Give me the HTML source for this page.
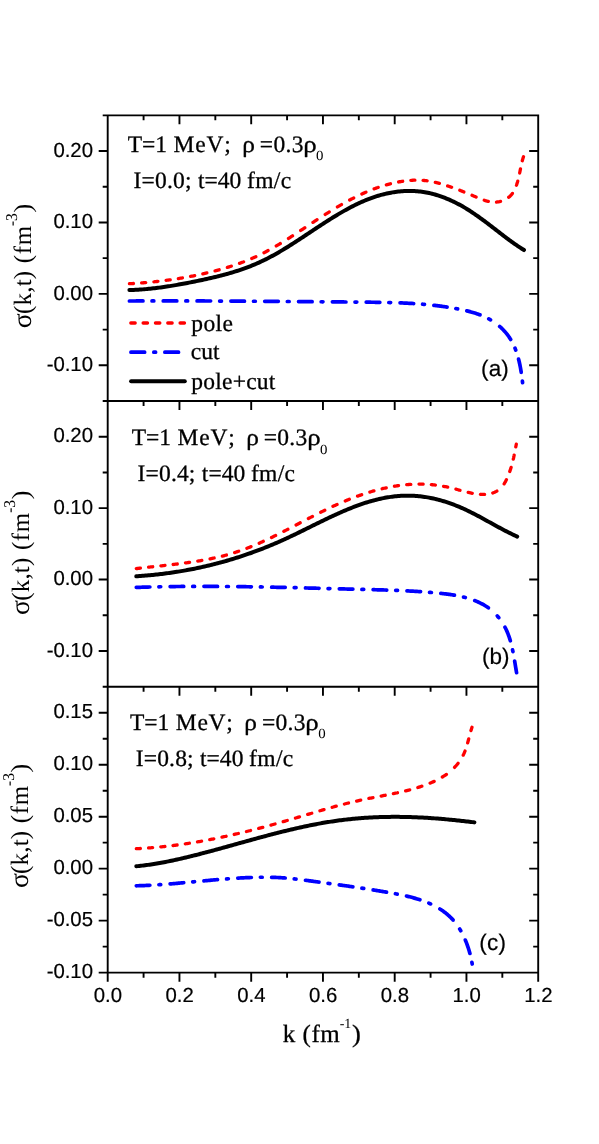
<!DOCTYPE html>
<html><head><meta charset="utf-8"><title>sigma(k,t)</title>
<style>
html,body{margin:0;padding:0;background:#fff;}
body{width:599px;height:1144px;overflow:hidden;}
svg{display:block;will-change:transform;}
text{font-kerning:none;font-variant-ligatures:none;text-rendering:geometricPrecision;}
.ser{font-family:"Liberation Serif",serif;fill:#000;stroke:#000;stroke-width:0.3px;stroke-linejoin:round;}
.san{font-family:"Liberation Sans",sans-serif;fill:#000;stroke:#000;stroke-width:0.2px;stroke-linejoin:round;}
.yt .ser{stroke:none;}
.ax{stroke:#000;stroke-width:1.90;fill:none;stroke-linecap:butt;}
.cv{fill:none;stroke-linejoin:round;}
</style></head><body>
<svg width="599" height="1144" viewBox="0 0 599 1144">
<rect x="0" y="0" width="599" height="1144" fill="#fff"/>
<path class="ax" d="M107.70 114.40 L107.70 973.60 M538.20 114.40 L538.20 973.60 M106.75 115.35 L539.15 115.35 M106.75 401.00 L539.15 401.00 M106.75 686.70 L539.15 686.70 M106.75 972.65 L539.15 972.65 M143.58 115.35 L143.58 120.35 M179.45 115.35 L179.45 124.35 M215.33 115.35 L215.33 120.35 M251.20 115.35 L251.20 124.35 M287.08 115.35 L287.08 120.35 M322.95 115.35 L322.95 124.35 M358.83 115.35 L358.83 120.35 M394.70 115.35 L394.70 124.35 M430.58 115.35 L430.58 120.35 M466.45 115.35 L466.45 124.35 M502.33 115.35 L502.33 120.35 M143.58 401.00 L143.58 406.00 M179.45 401.00 L179.45 410.00 M215.33 401.00 L215.33 406.00 M251.20 401.00 L251.20 410.00 M287.08 401.00 L287.08 406.00 M322.95 401.00 L322.95 410.00 M358.83 401.00 L358.83 406.00 M394.70 401.00 L394.70 410.00 M430.58 401.00 L430.58 406.00 M466.45 401.00 L466.45 410.00 M502.33 401.00 L502.33 406.00 M143.58 686.70 L143.58 691.70 M179.45 686.70 L179.45 695.70 M215.33 686.70 L215.33 691.70 M251.20 686.70 L251.20 695.70 M287.08 686.70 L287.08 691.70 M322.95 686.70 L322.95 695.70 M358.83 686.70 L358.83 691.70 M394.70 686.70 L394.70 695.70 M430.58 686.70 L430.58 691.70 M466.45 686.70 L466.45 695.70 M502.33 686.70 L502.33 691.70 M107.70 972.65 L107.70 981.65 M143.58 972.65 L143.58 977.65 M179.45 972.65 L179.45 981.65 M215.33 972.65 L215.33 977.65 M251.20 972.65 L251.20 981.65 M287.08 972.65 L287.08 977.65 M322.95 972.65 L322.95 981.65 M358.83 972.65 L358.83 977.65 M394.70 972.65 L394.70 981.65 M430.58 972.65 L430.58 977.65 M466.45 972.65 L466.45 981.65 M502.33 972.65 L502.33 977.65 M538.20 972.65 L538.20 981.65 M98.70 151.06 L107.70 151.06 M529.20 151.06 L538.20 151.06 M98.70 222.47 L107.70 222.47 M529.20 222.47 L538.20 222.47 M98.70 293.88 L107.70 293.88 M529.20 293.88 L538.20 293.88 M98.70 365.29 L107.70 365.29 M529.20 365.29 L538.20 365.29 M102.70 115.35 L107.70 115.35 M533.20 115.35 L538.20 115.35 M102.70 186.76 L107.70 186.76 M533.20 186.76 L538.20 186.76 M102.70 258.17 L107.70 258.17 M533.20 258.17 L538.20 258.17 M102.70 329.59 L107.70 329.59 M533.20 329.59 L538.20 329.59 M102.70 401.00 L107.70 401.00 M533.20 401.00 L538.20 401.00 M98.70 436.71 L107.70 436.71 M529.20 436.71 L538.20 436.71 M98.70 508.14 L107.70 508.14 M529.20 508.14 L538.20 508.14 M98.70 579.56 L107.70 579.56 M529.20 579.56 L538.20 579.56 M98.70 650.99 L107.70 650.99 M529.20 650.99 L538.20 650.99 M102.70 401.00 L107.70 401.00 M533.20 401.00 L538.20 401.00 M102.70 472.43 L107.70 472.43 M533.20 472.43 L538.20 472.43 M102.70 543.85 L107.70 543.85 M533.20 543.85 L538.20 543.85 M102.70 615.27 L107.70 615.27 M533.20 615.27 L538.20 615.27 M102.70 686.70 L107.70 686.70 M533.20 686.70 L538.20 686.70 M98.70 712.70 L107.70 712.70 M529.20 712.70 L538.20 712.70 M98.70 764.69 L107.70 764.69 M529.20 764.69 L538.20 764.69 M98.70 816.68 L107.70 816.68 M529.20 816.68 L538.20 816.68 M98.70 868.67 L107.70 868.67 M529.20 868.67 L538.20 868.67 M98.70 920.66 L107.70 920.66 M529.20 920.66 L538.20 920.66 M98.70 972.65 L107.70 972.65 M529.20 972.65 L538.20 972.65 M102.70 686.70 L107.70 686.70 M533.20 686.70 L538.20 686.70 M102.70 738.69 L107.70 738.69 M533.20 738.69 L538.20 738.69 M102.70 790.68 L107.70 790.68 M533.20 790.68 L538.20 790.68 M102.70 842.67 L107.70 842.67 M533.20 842.67 L538.20 842.67 M102.70 894.66 L107.70 894.66 M533.20 894.66 L538.20 894.66 M102.70 946.65 L107.70 946.65 M533.20 946.65 L538.20 946.65"/>
<text class="san" x="93.0" y="156.71" font-size="20.35" text-anchor="end">0.20</text>
<text class="san" x="93.0" y="228.12" font-size="20.35" text-anchor="end">0.10</text>
<text class="san" x="93.0" y="299.53" font-size="20.35" text-anchor="end">0.00</text>
<text class="san" x="93.0" y="370.94" font-size="20.35" text-anchor="end">-0.10</text>
<text class="san" x="93.0" y="442.36" font-size="20.35" text-anchor="end">0.20</text>
<text class="san" x="93.0" y="513.79" font-size="20.35" text-anchor="end">0.10</text>
<text class="san" x="93.0" y="585.21" font-size="20.35" text-anchor="end">0.00</text>
<text class="san" x="93.0" y="656.64" font-size="20.35" text-anchor="end">-0.10</text>
<text class="san" x="93.0" y="718.35" font-size="20.35" text-anchor="end">0.15</text>
<text class="san" x="93.0" y="770.34" font-size="20.35" text-anchor="end">0.10</text>
<text class="san" x="93.0" y="822.33" font-size="20.35" text-anchor="end">0.05</text>
<text class="san" x="93.0" y="874.32" font-size="20.35" text-anchor="end">0.00</text>
<text class="san" x="93.0" y="926.31" font-size="20.35" text-anchor="end">-0.05</text>
<text class="san" x="93.0" y="978.30" font-size="20.35" text-anchor="end">-0.10</text>
<text class="san" x="107.90" y="1002.0" font-size="20.35" text-anchor="middle">0.0</text>
<text class="san" x="179.65" y="1002.0" font-size="20.35" text-anchor="middle">0.2</text>
<text class="san" x="251.40" y="1002.0" font-size="20.35" text-anchor="middle">0.4</text>
<text class="san" x="323.15" y="1002.0" font-size="20.35" text-anchor="middle">0.6</text>
<text class="san" x="394.90" y="1002.0" font-size="20.35" text-anchor="middle">0.8</text>
<text class="san" x="466.65" y="1002.0" font-size="20.35" text-anchor="middle">1.0</text>
<text class="san" x="538.40" y="1002.0" font-size="20.35" text-anchor="middle">1.2</text>
<path class="cv" d="M129.40 301.00 L129.40 301.00 L130.40 301.00 L131.39 300.99 L132.38 300.99 L133.38 300.99 L134.37 300.98 L135.37 300.98 L136.36 300.97 L137.35 300.97 L138.35 300.97 L139.34 300.96 L140.34 300.96 L141.33 300.96 L142.33 300.95 L142.98 300.95 M152.01 300.93 L152.03 300.93 L153.02 300.93 L153.80 300.93 M163.24 300.91 L163.24 300.91 L164.23 300.91 L165.23 300.91 L166.23 300.91 L167.23 300.91 L168.22 300.91 L169.22 300.91 L170.22 300.91 L171.22 300.91 L172.21 300.91 L173.21 300.91 L174.21 300.91 L175.21 300.91 L176.20 300.92 L176.81 300.92 M185.84 300.93 L185.94 300.93 L186.94 300.93 L187.64 300.93 M197.07 300.95 L197.18 300.95 L198.18 300.95 L199.18 300.96 L200.18 300.96 L201.18 300.96 L202.18 300.97 L203.18 300.97 L204.18 300.97 L205.18 300.98 L206.18 300.98 L207.18 300.98 L208.18 300.99 L209.18 300.99 L210.18 300.99 L210.64 301.00 M219.67 301.03 L219.69 301.03 L220.69 301.04 L221.47 301.04 M230.90 301.09 L230.95 301.09 L231.95 301.10 L232.95 301.10 L233.95 301.11 L234.95 301.11 L235.96 301.12 L236.96 301.12 L237.96 301.13 L238.96 301.14 L239.96 301.14 L240.96 301.15 L241.97 301.15 L242.97 301.16 L243.97 301.17 L244.47 301.17 M253.51 301.23 L253.74 301.23 L254.74 301.24 L255.30 301.24 M264.73 301.31 L264.76 301.31 L265.76 301.31 L266.77 301.32 L267.77 301.33 L268.77 301.34 L269.77 301.34 L270.77 301.35 L271.78 301.36 L272.78 301.37 L273.78 301.37 L274.78 301.38 L275.79 301.39 L276.79 301.40 L277.79 301.40 L278.31 301.41 M287.34 301.48 L287.56 301.48 L288.56 301.49 L289.13 301.49 M298.56 301.57 L298.59 301.57 L299.59 301.58 L300.59 301.59 L301.59 301.60 L302.59 301.61 L303.60 301.62 L304.60 301.63 L305.60 301.63 L306.60 301.64 L307.60 301.65 L308.60 301.66 L309.61 301.67 L310.61 301.68 L311.61 301.69 L312.14 301.69 M321.17 301.77 L321.38 301.77 L322.38 301.78 L322.97 301.79 M332.40 301.87 L332.64 301.87 L333.64 301.88 L334.64 301.89 L335.64 301.90 L336.64 301.91 L337.65 301.92 L338.65 301.93 L339.65 301.94 L340.65 301.94 L341.65 301.95 L342.65 301.96 L343.65 301.97 L344.65 301.98 L345.65 301.99 L345.97 301.99 M355.00 302.07 L355.15 302.07 L356.15 302.08 L356.80 302.09 M366.23 302.17 L366.39 302.18 L367.39 302.19 L368.39 302.20 L369.39 302.21 L370.39 302.22 L371.39 302.23 L372.39 302.24 L373.39 302.25 L374.38 302.26 L375.38 302.28 L376.38 302.29 L377.38 302.30 L378.38 302.32 L379.38 302.33 L379.80 302.34 M388.83 302.52 L388.85 302.52 L389.85 302.54 L390.63 302.56 M400.06 302.87 L400.07 302.87 L401.06 302.91 L402.06 302.95 L403.05 302.99 L404.05 303.04 L405.05 303.08 L406.04 303.13 L407.04 303.18 L408.03 303.23 L409.03 303.28 L410.02 303.34 L411.02 303.40 L412.01 303.45 L413.01 303.52 L413.63 303.55 M422.67 304.21 L422.70 304.22 L423.69 304.30 L424.46 304.37 M433.89 305.31 L434.12 305.34 L435.11 305.45 L436.10 305.57 L437.10 305.69 L438.09 305.81 L439.08 305.94 L440.07 306.07 L441.06 306.20 L442.05 306.33 L443.04 306.47 L444.04 306.61 L445.03 306.76 L446.02 306.91 L447.01 307.06 L447.09 307.07 M455.87 308.56 L455.92 308.57 L456.91 308.75 L457.62 308.89 M466.79 310.86 L467.00 310.91 L467.98 311.15 L468.95 311.40 L469.92 311.66 L470.89 311.92 L471.86 312.19 L472.82 312.47 L473.77 312.76 L474.73 313.05 L475.68 313.35 L476.62 313.66 L477.56 313.99 L478.50 314.32 L479.43 314.66 L479.98 314.86 M488.76 318.85 L488.83 318.89 L489.69 319.36 L490.51 319.83 M499.68 326.42 L499.83 326.56 L500.56 327.21 L501.28 327.88 L501.98 328.55 L502.68 329.24 L503.36 329.94 L504.03 330.66 L504.69 331.38 L505.33 332.12 L505.96 332.87 L506.58 333.63 L507.19 334.40 L507.78 335.18 L508.36 335.97 L508.93 336.78 L509.48 337.59 L510.02 338.42 L510.54 339.25 L510.66 339.44 M515.03 348.22 L515.09 348.38 L515.46 349.31 L515.71 349.97 M518.57 359.14 L518.60 359.25 L518.85 360.24 L519.09 361.24 L519.32 362.24 L519.54 363.24 L519.75 364.24 L519.96 365.25 L520.16 366.25 L520.35 367.26 L520.54 368.27 L520.71 369.27 L520.88 370.28 L521.05 371.29 L521.21 372.29 L521.21 372.33 M522.39 381.11 L522.41 381.25 L522.52 382.23 L522.58 382.71" stroke="#0000ff" stroke-width="3.7" stroke-linecap="round"/>
<path class="cv" d="M129.41 283.70 L129.41 283.70 L130.36 283.65 L131.32 283.60 L132.29 283.55 L133.25 283.49 L133.47 283.48 M141.64 282.93 L141.77 282.92 L142.76 282.84 L143.74 282.76 L144.73 282.68 L145.71 282.60 M153.88 281.81 L153.91 281.81 L154.91 281.71 L155.91 281.60 L156.91 281.49 L157.91 281.37 L157.95 281.37 M166.11 280.36 L166.20 280.35 L167.21 280.22 L168.22 280.08 L169.23 279.94 L170.18 279.81 M178.35 278.57 L178.56 278.53 L179.57 278.37 L180.58 278.20 L181.59 278.03 L182.42 277.89 M190.59 276.41 L190.64 276.40 L191.65 276.21 L192.65 276.01 L193.65 275.81 L194.65 275.61 L194.65 275.61 M202.82 273.87 L202.86 273.86 L203.85 273.63 L204.84 273.41 L205.83 273.18 L206.81 272.94 L206.89 272.93 M215.06 270.89 L215.12 270.88 L216.09 270.62 L217.05 270.36 L218.02 270.10 L218.98 269.84 L219.13 269.80 M227.29 267.43 L227.30 267.43 L228.24 267.14 L229.18 266.85 L230.12 266.55 L231.05 266.25 L231.36 266.15 M239.53 263.36 L239.60 263.33 L240.51 263.00 L241.43 262.66 L242.34 262.32 L243.25 261.98 L243.60 261.84 M251.77 258.51 L251.81 258.49 L252.70 258.10 L253.59 257.71 L254.48 257.31 L255.37 256.91 L255.83 256.70 M264.00 252.71 L264.19 252.61 L265.06 252.16 L265.94 251.70 L266.81 251.24 L267.68 250.77 L268.07 250.56 M276.24 245.94 L276.35 245.87 L277.21 245.36 L278.08 244.85 L278.94 244.34 L279.80 243.82 L280.31 243.51 M288.47 238.43 L288.58 238.37 L289.43 237.82 L290.28 237.28 L291.14 236.73 L291.99 236.18 L292.54 235.82 M300.71 230.48 L300.71 230.48 L301.57 229.91 L302.42 229.35 L303.27 228.79 L304.12 228.23 L304.78 227.79 M312.95 222.39 L313.05 222.33 L313.90 221.77 L314.76 221.21 L315.61 220.65 L316.46 220.09 L317.01 219.73 M325.18 214.47 L325.23 214.45 L326.09 213.90 L326.94 213.36 L327.80 212.82 L328.66 212.28 L329.25 211.92 M337.42 206.96 L337.52 206.90 L338.38 206.39 L339.25 205.88 L340.12 205.37 L340.99 204.87 L341.49 204.59 M349.65 200.07 L349.76 200.01 L350.64 199.54 L351.52 199.08 L352.41 198.62 L353.29 198.17 L353.72 197.94 M361.89 193.98 L361.99 193.93 L362.89 193.52 L363.79 193.12 L364.70 192.72 L365.60 192.32 L365.96 192.17 M374.13 188.86 L374.26 188.81 L375.18 188.47 L376.11 188.13 L377.03 187.80 L377.96 187.48 L378.19 187.39 M386.36 184.83 L386.37 184.82 L387.31 184.56 L388.26 184.30 L389.21 184.05 L390.16 183.81 L390.43 183.74 M398.60 181.96 L398.81 181.92 L399.78 181.75 L400.75 181.58 L401.73 181.42 L402.67 181.28 M410.83 180.37 L410.84 180.37 L411.83 180.30 L412.82 180.25 L413.82 180.21 L414.81 180.18 L414.90 180.18 M423.07 180.39 L423.29 180.41 L424.29 180.50 L425.29 180.61 L426.29 180.73 L427.14 180.84 M435.31 182.37 L435.51 182.41 L436.50 182.65 L437.49 182.90 L438.48 183.16 L439.37 183.40 M447.54 185.89 L447.55 185.89 L448.52 186.22 L449.49 186.55 L450.45 186.88 L451.42 187.22 L451.61 187.29 M459.78 190.32 L459.99 190.40 L460.93 190.77 L461.88 191.14 L462.82 191.52 L463.76 191.90 L463.85 191.93 M472.01 195.32 L472.18 195.39 L473.12 195.78 L474.05 196.18 L474.98 196.58 L475.92 196.99 L476.08 197.06 M484.25 200.25 L484.35 200.28 L485.29 200.58 L486.24 200.85 L487.18 201.11 L488.13 201.34 L488.32 201.38 M496.49 202.03 L496.72 202.01 L497.67 201.90 L498.62 201.76 L499.56 201.58 L500.50 201.36 L500.55 201.35 M508.72 197.33 L508.74 197.32 L509.46 196.71 L510.14 196.06 L510.80 195.38 L511.42 194.67 L512.01 193.92 L512.38 193.42 M516.46 185.25 L516.54 185.04 L516.87 184.05 L517.19 183.05 L517.50 182.04 L517.74 181.18 M519.66 173.01 L519.66 173.00 L519.87 171.97 L520.08 170.95 L520.28 169.94 L520.48 168.94 M522.29 160.78 L522.31 160.71 L522.55 159.79 L522.81 158.89 L523.07 158.01 L523.35 157.14 L523.50 156.71" stroke="#ff0000" stroke-width="3.3" stroke-linecap="round"/>
<path class="cv" d="M129.40 290.05 L130.89 290.01 L132.38 289.97 L133.86 289.91 L135.35 289.84 L136.84 289.76 L138.34 289.68 L139.83 289.58 L141.32 289.48 L142.81 289.37 L144.30 289.25 L145.80 289.12 L147.29 288.98 L148.78 288.84 L150.28 288.69 L151.77 288.53 L153.27 288.36 L154.76 288.19 L156.25 288.01 L157.75 287.82 L159.24 287.63 L160.74 287.43 L162.23 287.22 L163.72 287.01 L165.21 286.79 L166.71 286.57 L168.20 286.34 L169.69 286.10 L171.18 285.86 L172.67 285.62 L174.16 285.37 L175.65 285.11 L177.14 284.85 L178.63 284.59 L180.11 284.32 L181.60 284.05 L183.08 283.78 L184.57 283.50 L186.05 283.22 L187.53 282.93 L189.01 282.64 L190.49 282.35 L191.97 282.06 L193.44 281.76 L194.92 281.46 L196.39 281.16 L197.86 280.86 L199.33 280.55 L200.80 280.25 L202.27 279.93 L203.73 279.62 L205.20 279.30 L206.66 278.98 L208.12 278.65 L209.58 278.32 L211.03 277.99 L212.48 277.65 L213.94 277.31 L215.39 276.96 L216.83 276.61 L218.28 276.25 L219.72 275.89 L221.16 275.52 L222.60 275.14 L224.04 274.76 L225.47 274.37 L226.90 273.98 L228.33 273.57 L229.75 273.17 L231.18 272.75 L232.59 272.33 L234.01 271.89 L235.43 271.45 L236.84 271.01 L238.25 270.55 L239.65 270.09 L241.05 269.61 L242.45 269.13 L243.85 268.64 L245.24 268.14 L246.63 267.63 L248.01 267.11 L249.40 266.58 L250.78 266.03 L252.15 265.48 L253.52 264.92 L254.89 264.35 L256.26 263.76 L257.62 263.17 L258.97 262.56 L260.33 261.94 L261.68 261.31 L263.02 260.66 L264.36 260.01 L265.70 259.35 L267.04 258.67 L268.37 257.98 L269.70 257.29 L271.02 256.58 L272.35 255.87 L273.67 255.14 L274.98 254.41 L276.30 253.67 L277.61 252.92 L278.92 252.17 L280.22 251.40 L281.53 250.63 L282.83 249.85 L284.13 249.07 L285.42 248.28 L286.72 247.48 L288.01 246.68 L289.30 245.87 L290.59 245.06 L291.88 244.24 L293.17 243.42 L294.45 242.60 L295.74 241.77 L297.02 240.94 L298.30 240.10 L299.58 239.26 L300.86 238.42 L302.14 237.58 L303.42 236.73 L304.70 235.89 L305.98 235.04 L307.25 234.19 L308.53 233.34 L309.80 232.50 L311.08 231.65 L312.36 230.80 L313.63 229.95 L314.91 229.10 L316.18 228.26 L317.46 227.41 L318.74 226.57 L320.02 225.73 L321.29 224.90 L322.57 224.06 L323.85 223.23 L325.13 222.40 L326.41 221.58 L327.70 220.76 L328.98 219.95 L330.27 219.14 L331.55 218.33 L332.84 217.53 L334.13 216.74 L335.42 215.95 L336.72 215.17 L338.01 214.39 L339.31 213.62 L340.61 212.86 L341.91 212.11 L343.21 211.36 L344.52 210.62 L345.82 209.90 L347.14 209.18 L348.45 208.46 L349.77 207.76 L351.08 207.07 L352.41 206.39 L353.73 205.72 L355.06 205.06 L356.39 204.41 L357.72 203.77 L359.06 203.14 L360.40 202.53 L361.75 201.93 L363.10 201.34 L364.45 200.76 L365.81 200.19 L367.17 199.64 L368.53 199.11 L369.90 198.59 L371.27 198.08 L372.65 197.58 L374.03 197.11 L375.42 196.64 L376.81 196.20 L378.21 195.77 L379.61 195.35 L381.01 194.95 L382.42 194.57 L383.84 194.21 L385.26 193.86 L386.69 193.53 L388.12 193.22 L389.55 192.93 L391.00 192.66 L392.44 192.40 L393.89 192.17 L395.34 191.95 L396.80 191.76 L398.26 191.58 L399.72 191.43 L401.19 191.29 L402.65 191.18 L404.12 191.09 L405.59 191.02 L407.07 190.97 L408.54 190.94 L410.02 190.94 L411.49 190.96 L412.97 191.00 L414.45 191.07 L415.92 191.16 L417.40 191.27 L418.88 191.40 L420.35 191.57 L421.83 191.75 L423.30 191.96 L424.77 192.20 L426.24 192.46 L427.71 192.75 L429.17 193.06 L430.63 193.39 L432.09 193.75 L433.55 194.13 L435.00 194.53 L436.45 194.96 L437.89 195.41 L439.33 195.88 L440.77 196.36 L442.20 196.87 L443.62 197.40 L445.04 197.95 L446.46 198.52 L447.87 199.10 L449.27 199.70 L450.66 200.33 L452.05 200.96 L453.43 201.62 L454.81 202.28 L456.17 202.97 L457.53 203.67 L458.88 204.38 L460.23 205.11 L461.56 205.85 L462.89 206.61 L464.20 207.38 L465.51 208.15 L466.81 208.95 L468.10 209.75 L469.38 210.56 L470.65 211.38 L471.92 212.22 L473.18 213.06 L474.44 213.91 L475.68 214.77 L476.93 215.63 L478.16 216.50 L479.39 217.38 L480.62 218.27 L481.84 219.16 L483.06 220.06 L484.27 220.96 L485.48 221.86 L486.68 222.77 L487.88 223.68 L489.08 224.60 L490.28 225.52 L491.47 226.43 L492.66 227.35 L493.85 228.27 L495.04 229.20 L496.23 230.12 L497.42 231.03 L498.61 231.95 L499.79 232.87 L500.98 233.78 L502.17 234.69 L503.36 235.60 L504.55 236.51 L505.74 237.41 L506.93 238.30 L508.12 239.19 L509.32 240.07 L510.52 240.95 L511.73 241.82 L512.93 242.69 L514.14 243.54 L515.36 244.39 L516.57 245.23 L517.80 246.06 L519.03 246.88 L520.26 247.69 L521.50 248.48 L522.74 249.27 L523.99 250.05" stroke="#000000" stroke-width="4.0" stroke-linecap="round"/>
<path class="cv" d="M136.31 587.41 L136.31 587.41 L137.30 587.38 L138.28 587.34 L139.27 587.31 L140.26 587.28 L141.25 587.25 L142.24 587.22 L143.23 587.19 L144.22 587.16 L145.21 587.13 L146.20 587.10 L147.19 587.08 L148.18 587.05 L149.17 587.02 L149.88 587.00 M158.91 586.80 L159.10 586.79 L160.09 586.77 L160.71 586.76 M170.14 586.60 L170.29 586.60 L171.28 586.58 L172.28 586.57 L173.27 586.56 L174.27 586.54 L175.27 586.53 L176.26 586.52 L177.26 586.51 L178.26 586.50 L179.25 586.49 L180.25 586.48 L181.25 586.47 L182.25 586.46 L183.24 586.45 L183.71 586.45 M192.74 586.39 L192.98 586.39 L193.98 586.39 L194.54 586.39 M203.97 586.37 L203.98 586.37 L204.98 586.38 L205.98 586.38 L206.98 586.38 L207.99 586.38 L208.99 586.38 L209.99 586.39 L210.99 586.39 L211.99 586.39 L212.99 586.40 L214.00 586.40 L215.00 586.41 L216.00 586.41 L217.00 586.42 L217.54 586.42 M226.58 586.49 L226.78 586.49 L227.78 586.50 L228.37 586.50 M237.80 586.61 L237.82 586.61 L238.83 586.62 L239.83 586.63 L240.84 586.65 L241.84 586.66 L242.84 586.67 L243.85 586.69 L244.85 586.70 L245.86 586.72 L246.86 586.73 L247.87 586.75 L248.87 586.76 L249.88 586.78 L250.88 586.79 L251.38 586.80 M260.41 586.95 L260.43 586.95 L261.44 586.97 L262.21 586.99 M271.64 587.17 L271.74 587.17 L272.75 587.19 L273.75 587.21 L274.76 587.24 L275.77 587.26 L276.77 587.28 L277.78 587.30 L278.78 587.32 L279.79 587.34 L280.79 587.36 L281.80 587.39 L282.80 587.41 L283.81 587.43 L284.82 587.45 L285.21 587.46 M294.24 587.67 L294.37 587.68 L295.37 587.70 L296.04 587.72 M305.47 587.95 L305.68 587.95 L306.68 587.98 L307.69 588.00 L308.69 588.03 L309.70 588.05 L310.70 588.08 L311.71 588.10 L312.71 588.13 L313.72 588.16 L314.72 588.18 L315.72 588.21 L316.73 588.23 L317.73 588.26 L318.74 588.28 L319.04 588.29 M328.07 588.53 L328.27 588.53 L329.28 588.56 L329.87 588.57 M339.30 588.82 L339.31 588.82 L340.31 588.85 L341.31 588.87 L342.32 588.90 L343.32 588.92 L344.32 588.95 L345.32 588.98 L346.32 589.00 L347.32 589.03 L348.33 589.05 L349.33 589.08 L350.33 589.11 L351.33 589.13 L352.33 589.16 L352.87 589.17 M361.91 589.40 L362.08 589.40 L363.08 589.43 L363.70 589.44 M373.13 589.68 L373.32 589.69 L374.32 589.71 L375.32 589.74 L376.32 589.76 L377.31 589.79 L378.31 589.82 L379.31 589.85 L380.30 589.87 L381.30 589.90 L382.30 589.93 L383.29 589.96 L384.29 589.99 L385.29 590.02 L386.28 590.05 L386.71 590.07 M395.74 590.38 L395.98 590.39 L396.97 590.43 L397.53 590.45 M406.97 590.87 L407.15 590.88 L408.14 590.93 L409.13 590.98 L410.12 591.03 L411.11 591.09 L412.10 591.14 L413.09 591.20 L414.08 591.25 L415.07 591.31 L416.06 591.37 L417.05 591.43 L418.04 591.49 L419.03 591.56 L420.02 591.62 L420.54 591.66 M429.57 592.33 L429.64 592.34 L430.63 592.42 L431.37 592.48 M440.80 593.38 L440.97 593.39 L441.95 593.50 L442.93 593.61 L443.91 593.72 L444.90 593.83 L445.88 593.95 L446.86 594.07 L447.84 594.19 L448.82 594.32 L449.80 594.45 L450.78 594.59 L451.76 594.74 L452.74 594.89 L453.72 595.05 L454.42 595.16 M463.48 597.04 L463.50 597.04 L464.47 597.29 L465.28 597.50 M474.74 600.59 L474.84 600.63 L475.78 601.01 L476.71 601.40 L477.64 601.80 L478.56 602.21 L479.47 602.64 L480.38 603.08 L481.28 603.53 L482.17 603.99 L483.04 604.47 L483.91 604.96 L484.77 605.47 L485.62 605.98 L486.46 606.52 L487.28 607.06 L488.10 607.62 L488.36 607.81 M497.26 615.88 L497.33 615.96 L497.97 616.70 L498.59 617.45 L498.78 617.68 M504.96 627.14 L505.03 627.29 L505.49 628.18 L505.92 629.07 L506.35 629.97 L506.76 630.87 L507.16 631.79 L507.55 632.71 L507.92 633.64 L508.28 634.58 L508.63 635.53 L508.97 636.48 L509.29 637.43 L509.61 638.40 L509.91 639.36 L510.20 640.34 L510.33 640.76 M512.57 649.82 L512.61 650.01 L512.82 651.01 L512.95 651.63 M514.65 661.09 L514.68 661.29 L514.84 662.28 L515.01 663.27 L515.17 664.26 L515.33 665.25 L515.49 666.22 L515.65 667.20 L515.81 668.17 L515.97 669.14 L516.13 670.10 L516.29 671.05 L516.45 672.00 L516.58 672.71" stroke="#0000ff" stroke-width="3.7" stroke-linecap="round"/>
<path class="cv" d="M136.30 568.61 L136.30 568.61 L137.27 568.49 L138.24 568.38 L139.21 568.26 L140.19 568.15 L140.39 568.13 M148.60 567.21 L148.76 567.19 L149.74 567.08 L150.73 566.98 L151.72 566.87 L152.68 566.77 M160.89 565.88 L160.89 565.88 L161.89 565.77 L162.89 565.66 L163.88 565.55 L164.88 565.44 L164.97 565.43 M173.18 564.50 L173.38 564.47 L174.38 564.35 L175.38 564.23 L176.38 564.11 L177.27 564.00 M185.47 562.94 L185.65 562.92 L186.65 562.78 L187.65 562.64 L188.65 562.50 L189.56 562.37 M197.76 561.11 L197.89 561.09 L198.88 560.93 L199.88 560.76 L200.87 560.59 L201.85 560.42 M210.06 558.87 L210.28 558.82 L211.26 558.62 L212.25 558.42 L213.23 558.21 L214.14 558.01 M222.35 556.08 L222.51 556.04 L223.47 555.79 L224.44 555.54 L225.41 555.28 L226.37 555.02 L226.43 555.01 M234.64 552.58 L234.74 552.55 L235.68 552.25 L236.63 551.94 L237.57 551.63 L238.51 551.31 L238.73 551.24 M246.93 548.26 L247.15 548.17 L248.07 547.82 L249.00 547.45 L249.92 547.09 L250.84 546.72 L251.02 546.65 M259.22 543.18 L259.30 543.14 L260.21 542.74 L261.12 542.34 L262.02 541.93 L262.93 541.52 L263.31 541.34 M271.52 537.49 L271.71 537.39 L272.61 536.96 L273.50 536.52 L274.40 536.08 L275.29 535.64 L275.60 535.49 M283.81 531.35 L283.98 531.26 L284.87 530.80 L285.76 530.35 L286.65 529.89 L287.54 529.43 L287.89 529.25 M296.10 524.97 L296.19 524.92 L297.08 524.45 L297.97 523.99 L298.86 523.52 L299.75 523.06 L300.19 522.82 M308.39 518.54 L308.41 518.53 L309.30 518.06 L310.20 517.60 L311.09 517.14 L311.98 516.68 L312.48 516.42 M320.68 512.26 L320.71 512.25 L321.61 511.80 L322.51 511.36 L323.41 510.91 L324.32 510.47 L324.77 510.25 M332.98 506.34 L333.16 506.26 L334.08 505.83 L334.99 505.42 L335.91 505.00 L336.83 504.59 L337.06 504.48 M345.27 500.94 L345.37 500.90 L346.29 500.51 L347.22 500.13 L348.16 499.75 L349.09 499.38 L349.35 499.27 M357.56 496.15 L357.76 496.07 L358.71 495.74 L359.65 495.40 L360.59 495.07 L361.54 494.74 L361.65 494.71 M369.85 492.05 L369.85 492.05 L370.81 491.76 L371.76 491.48 L372.72 491.20 L373.68 490.93 L373.94 490.86 M382.14 488.73 L382.32 488.68 L383.29 488.46 L384.25 488.24 L385.22 488.02 L386.18 487.81 L386.23 487.80 M394.44 486.24 L394.66 486.20 L395.64 486.05 L396.61 485.90 L397.58 485.75 L398.52 485.62 M406.73 484.68 L406.85 484.67 L407.83 484.59 L408.81 484.52 L409.79 484.45 L410.77 484.38 L410.81 484.38 M419.02 484.13 L419.11 484.12 L420.09 484.13 L421.08 484.14 L422.06 484.15 L423.05 484.17 L423.11 484.18 M431.31 484.65 L431.45 484.66 L432.44 484.76 L433.43 484.86 L434.43 484.97 L435.40 485.08 M443.60 486.33 L443.67 486.34 L444.67 486.53 L445.68 486.73 L446.68 486.94 L447.69 487.15 L447.69 487.15 M455.90 489.17 L456.04 489.21 L457.06 489.48 L458.07 489.76 L459.09 490.03 L459.98 490.28 M468.19 492.40 L468.43 492.45 L469.43 492.68 L470.43 492.90 L471.43 493.11 L472.27 493.28 M480.48 494.37 L480.50 494.38 L481.46 494.42 L482.42 494.45 L483.37 494.45 L484.32 494.43 L484.57 494.42 M492.77 492.96 L492.97 492.89 L493.82 492.57 L494.67 492.21 L495.49 491.82 L496.31 491.40 L496.86 491.08 M504.16 483.77 L504.23 483.66 L504.78 482.74 L505.31 481.81 L505.83 480.85 L506.32 479.87 L506.41 479.68 M509.76 471.47 L509.79 471.38 L510.13 470.41 L510.45 469.44 L510.76 468.47 L511.06 467.52 L511.10 467.39 M513.27 459.18 L513.31 459.01 L513.53 458.07 L513.73 457.12 L513.94 456.18 L514.14 455.23 L514.16 455.10 M515.77 446.89 L515.80 446.72 L516.00 445.72 L516.19 444.71 L516.29 444.20" stroke="#ff0000" stroke-width="3.3" stroke-linecap="round"/>
<path class="cv" d="M136.29 576.26 L137.82 576.16 L139.35 576.06 L140.87 575.95 L142.39 575.83 L143.91 575.72 L145.42 575.59 L146.94 575.47 L148.45 575.33 L149.96 575.20 L151.47 575.05 L152.98 574.90 L154.48 574.75 L155.98 574.59 L157.49 574.43 L158.98 574.26 L160.48 574.09 L161.98 573.91 L163.47 573.72 L164.96 573.54 L166.45 573.34 L167.94 573.14 L169.43 572.94 L170.91 572.73 L172.39 572.51 L173.88 572.29 L175.35 572.07 L176.83 571.84 L178.31 571.60 L179.78 571.36 L181.25 571.12 L182.72 570.87 L184.19 570.61 L185.66 570.35 L187.13 570.09 L188.59 569.81 L190.05 569.54 L191.51 569.26 L192.97 568.97 L194.43 568.68 L195.88 568.38 L197.34 568.08 L198.79 567.77 L200.24 567.46 L201.69 567.14 L203.14 566.82 L204.59 566.49 L206.03 566.16 L207.48 565.82 L208.92 565.48 L210.36 565.13 L211.80 564.77 L213.23 564.41 L214.67 564.05 L216.11 563.68 L217.54 563.30 L218.97 562.92 L220.40 562.54 L221.83 562.15 L223.26 561.75 L224.69 561.35 L226.11 560.95 L227.53 560.53 L228.96 560.12 L230.38 559.70 L231.80 559.27 L233.22 558.84 L234.63 558.40 L236.05 557.95 L237.46 557.51 L238.88 557.05 L240.29 556.59 L241.70 556.13 L243.11 555.66 L244.52 555.19 L245.93 554.71 L247.33 554.22 L248.74 553.73 L250.14 553.24 L251.55 552.74 L252.95 552.23 L254.35 551.72 L255.75 551.20 L257.15 550.68 L258.54 550.15 L259.94 549.62 L261.34 549.08 L262.73 548.54 L264.12 547.99 L265.52 547.44 L266.91 546.88 L268.30 546.31 L269.69 545.74 L271.08 545.17 L272.46 544.59 L273.85 544.00 L275.23 543.41 L276.62 542.81 L278.00 542.21 L279.39 541.60 L280.77 540.99 L282.15 540.37 L283.53 539.75 L284.91 539.12 L286.29 538.49 L287.66 537.85 L289.04 537.21 L290.42 536.56 L291.79 535.91 L293.17 535.25 L294.54 534.59 L295.92 533.93 L297.29 533.26 L298.66 532.59 L300.04 531.92 L301.41 531.25 L302.78 530.58 L304.15 529.90 L305.52 529.22 L306.90 528.54 L308.27 527.87 L309.64 527.19 L311.01 526.51 L312.38 525.83 L313.75 525.15 L315.13 524.47 L316.50 523.79 L317.87 523.12 L319.24 522.44 L320.62 521.77 L321.99 521.10 L323.36 520.43 L324.74 519.77 L326.11 519.11 L327.49 518.45 L328.86 517.79 L330.24 517.14 L331.62 516.50 L332.99 515.85 L334.37 515.22 L335.75 514.58 L337.13 513.96 L338.51 513.33 L339.90 512.72 L341.28 512.11 L342.66 511.51 L344.05 510.91 L345.44 510.32 L346.82 509.74 L348.21 509.16 L349.60 508.60 L351.00 508.04 L352.39 507.49 L353.78 506.95 L355.18 506.42 L356.58 505.89 L357.98 505.38 L359.38 504.88 L360.78 504.38 L362.18 503.90 L363.59 503.43 L365.00 502.97 L366.41 502.52 L367.82 502.08 L369.23 501.65 L370.65 501.24 L372.07 500.84 L373.49 500.45 L374.91 500.08 L376.33 499.71 L377.76 499.36 L379.19 499.03 L380.62 498.71 L382.05 498.40 L383.49 498.11 L384.92 497.84 L386.36 497.57 L387.81 497.33 L389.25 497.10 L390.70 496.89 L392.15 496.69 L393.60 496.51 L395.06 496.35 L396.52 496.20 L397.98 496.07 L399.45 495.96 L400.92 495.87 L402.39 495.80 L403.86 495.74 L405.34 495.70 L406.81 495.68 L408.29 495.68 L409.77 495.70 L411.26 495.74 L412.74 495.79 L414.23 495.87 L415.71 495.96 L417.20 496.07 L418.68 496.20 L420.17 496.35 L421.65 496.52 L423.14 496.71 L424.62 496.91 L426.11 497.14 L427.59 497.38 L429.07 497.65 L430.55 497.93 L432.03 498.23 L433.51 498.55 L434.98 498.88 L436.45 499.23 L437.92 499.60 L439.38 499.99 L440.85 500.39 L442.30 500.81 L443.76 501.25 L445.21 501.70 L446.66 502.16 L448.10 502.64 L449.53 503.14 L450.97 503.64 L452.39 504.17 L453.82 504.70 L455.23 505.25 L456.64 505.81 L458.05 506.38 L459.45 506.96 L460.84 507.56 L462.22 508.16 L463.60 508.78 L464.97 509.41 L466.34 510.04 L467.70 510.69 L469.05 511.35 L470.40 512.01 L471.74 512.68 L473.07 513.36 L474.41 514.04 L475.74 514.73 L477.06 515.43 L478.38 516.13 L479.70 516.84 L481.01 517.55 L482.33 518.26 L483.64 518.98 L484.95 519.70 L486.25 520.42 L487.56 521.14 L488.86 521.87 L490.17 522.59 L491.48 523.32 L492.78 524.04 L494.09 524.76 L495.39 525.48 L496.70 526.20 L498.01 526.92 L499.33 527.63 L500.64 528.34 L501.96 529.04 L503.28 529.74 L504.61 530.43 L505.93 531.12 L507.27 531.80 L508.60 532.48 L509.94 533.14 L511.29 533.80 L512.64 534.45 L514.00 535.10 L515.37 535.73 L516.74 536.35 L517.20 536.55" stroke="#000000" stroke-width="4.0" stroke-linecap="round"/>
<path class="cv" d="M136.29 885.79 L136.29 885.79 L137.30 885.77 L138.30 885.74 L139.31 885.71 L140.31 885.68 L141.32 885.64 L142.32 885.61 L143.33 885.57 L144.33 885.53 L145.33 885.49 L146.34 885.44 L147.34 885.39 L148.35 885.35 L149.35 885.30 L149.87 885.27 M158.90 884.73 L159.12 884.72 L160.12 884.65 L160.69 884.61 M170.13 883.90 L170.37 883.88 L171.37 883.80 L172.37 883.72 L173.37 883.63 L174.37 883.55 L175.37 883.47 L176.37 883.38 L177.36 883.29 L178.36 883.21 L179.36 883.12 L180.36 883.03 L181.36 882.94 L182.35 882.85 L183.35 882.76 L183.70 882.73 M192.73 881.89 L192.82 881.88 L193.82 881.79 L194.53 881.72 M203.96 880.84 L204.02 880.83 L205.02 880.74 L206.01 880.65 L207.01 880.56 L208.00 880.47 L209.00 880.38 L209.99 880.29 L210.99 880.20 L211.98 880.11 L212.97 880.02 L213.97 879.93 L214.96 879.84 L215.96 879.76 L216.95 879.67 L217.53 879.62 M226.56 878.89 L226.64 878.89 L227.63 878.81 L228.36 878.76 M237.79 878.12 L237.80 878.12 L238.80 878.06 L239.79 878.01 L240.78 877.95 L241.77 877.90 L242.76 877.85 L243.76 877.80 L244.75 877.75 L245.74 877.70 L246.73 877.66 L247.72 877.62 L248.72 877.57 L249.71 877.54 L250.70 877.50 L251.36 877.48 M260.39 877.27 L260.62 877.26 L261.61 877.25 L262.19 877.25 M271.62 877.32 L271.77 877.32 L272.76 877.34 L273.75 877.37 L274.74 877.40 L275.73 877.44 L276.72 877.48 L277.72 877.52 L278.71 877.57 L279.70 877.62 L280.69 877.68 L281.68 877.74 L282.67 877.80 L283.66 877.87 L284.66 877.95 L285.19 877.99 M294.23 878.86 L294.32 878.87 L295.31 878.99 L296.02 879.07 M305.45 880.26 L305.48 880.26 L306.47 880.40 L307.46 880.53 L308.46 880.66 L309.45 880.80 L310.44 880.93 L311.43 881.07 L312.43 881.20 L313.42 881.33 L314.41 881.47 L315.40 881.60 L316.40 881.74 L317.39 881.87 L318.38 882.00 L319.03 882.09 M328.06 883.32 L328.07 883.32 L329.06 883.46 L329.86 883.57 M339.29 884.88 L339.50 884.91 L340.49 885.05 L341.49 885.19 L342.48 885.33 L343.48 885.47 L344.47 885.61 L345.47 885.76 L346.46 885.90 L347.46 886.04 L348.45 886.19 L349.45 886.33 L350.44 886.48 L351.44 886.62 L352.43 886.77 L352.86 886.83 M361.89 888.18 L361.90 888.18 L362.90 888.33 L363.69 888.45 M373.12 889.93 L373.13 889.93 L374.13 890.09 L375.13 890.25 L376.13 890.41 L377.12 890.58 L378.12 890.74 L379.12 890.90 L380.12 891.07 L381.12 891.23 L382.12 891.40 L383.12 891.57 L384.12 891.74 L385.12 891.91 L386.12 892.08 L386.51 892.14 M395.42 893.74 L395.62 893.78 L396.61 893.97 L397.20 894.08 M406.50 896.06 L406.73 896.11 L407.71 896.34 L408.68 896.58 L409.65 896.82 L410.62 897.07 L411.59 897.32 L412.55 897.58 L413.51 897.84 L414.47 898.11 L415.42 898.39 L416.37 898.67 L417.32 898.96 L418.26 899.25 L419.20 899.55 L419.89 899.78 M428.81 903.16 L429.02 903.25 L429.91 903.64 L430.58 903.95 M439.88 908.95 L439.88 908.95 L440.69 909.47 L441.49 910.00 L442.28 910.54 L443.07 911.09 L443.84 911.65 L444.61 912.22 L445.37 912.81 L446.12 913.41 L446.86 914.02 L447.60 914.64 L448.32 915.28 L449.04 915.92 L449.74 916.58 L450.44 917.26 L451.13 917.94 L451.80 918.64 L452.47 919.36 L453.13 920.08 L453.13 920.09 M459.68 929.00 L459.78 929.17 L460.31 930.05 L460.73 930.77 M465.34 940.08 L465.40 940.23 L465.80 941.19 L466.19 942.16 L466.57 943.12 L466.94 944.10 L467.29 945.07 L467.64 946.05 L467.98 947.03 L468.30 948.01 L468.62 948.99 L468.92 949.97 L469.22 950.96 L469.50 951.94 L469.78 952.92 L469.93 953.47 M471.91 962.38 L471.95 962.60 L472.11 963.54 L472.18 964.01" stroke="#0000ff" stroke-width="3.7" stroke-linecap="round"/>
<path class="cv" d="M136.31 848.70 L136.31 848.70 L137.30 848.66 L138.30 848.61 L139.29 848.56 L140.29 848.50 L140.38 848.50 M148.55 847.97 L148.73 847.96 L149.72 847.88 L150.71 847.81 L151.70 847.73 L152.62 847.65 M160.79 846.91 L160.87 846.90 L161.86 846.80 L162.85 846.70 L163.84 846.59 L164.82 846.49 L164.86 846.48 M173.03 845.53 L173.22 845.50 L174.21 845.38 L175.20 845.25 L176.19 845.12 L177.10 845.00 M185.27 843.84 L185.31 843.84 L186.29 843.69 L187.28 843.54 L188.26 843.39 L189.25 843.24 L189.34 843.22 M197.51 841.88 L197.61 841.86 L198.59 841.69 L199.58 841.52 L200.56 841.35 L201.54 841.17 L201.58 841.16 M209.75 839.64 L209.88 839.62 L210.87 839.43 L211.85 839.24 L212.83 839.04 L213.81 838.85 L213.83 838.85 M222.00 837.16 L222.13 837.13 L223.11 836.92 L224.09 836.71 L225.07 836.50 L226.05 836.29 L226.07 836.28 M234.24 834.45 L234.36 834.42 L235.34 834.19 L236.31 833.97 L237.29 833.74 L238.27 833.51 L238.31 833.50 M246.48 831.52 L246.56 831.50 L247.54 831.26 L248.51 831.02 L249.49 830.77 L250.46 830.53 L250.55 830.50 M258.72 828.40 L258.74 828.39 L259.72 828.14 L260.69 827.88 L261.66 827.62 L262.64 827.36 L262.79 827.32 M270.96 825.10 L271.15 825.05 L272.12 824.78 L273.09 824.51 L274.06 824.24 L275.03 823.97 M283.20 821.65 L283.29 821.62 L284.26 821.34 L285.23 821.06 L286.20 820.78 L287.17 820.50 L287.27 820.47 M295.44 818.06 L295.65 818.00 L296.62 817.71 L297.59 817.42 L298.56 817.13 L299.51 816.85 M307.68 814.41 L307.76 814.39 L308.72 814.10 L309.69 813.82 L310.66 813.53 L311.63 813.24 L311.75 813.20 M319.93 810.80 L320.09 810.75 L321.05 810.47 L322.02 810.19 L322.99 809.91 L323.95 809.63 L324.00 809.62 M332.17 807.30 L332.40 807.24 L333.37 806.97 L334.33 806.71 L335.30 806.44 L336.24 806.18 M344.41 804.02 L344.46 804.01 L345.43 803.76 L346.39 803.52 L347.36 803.27 L348.32 803.03 L348.48 802.99 M356.65 801.05 L356.75 801.02 L357.72 800.80 L358.68 800.59 L359.64 800.37 L360.61 800.16 L360.72 800.14 M368.89 798.44 L369.03 798.42 L369.99 798.23 L370.96 798.04 L371.92 797.85 L372.88 797.66 L372.96 797.64 M381.13 796.07 L381.30 796.04 L382.26 795.85 L383.22 795.67 L384.18 795.48 L385.15 795.29 L385.20 795.28 M393.37 793.64 L393.56 793.60 L394.52 793.40 L395.48 793.20 L396.44 792.99 L397.40 792.78 L397.44 792.77 M405.61 790.87 L405.81 790.82 L406.77 790.58 L407.73 790.34 L408.69 790.09 L409.65 789.84 L409.68 789.83 M417.85 787.48 L418.06 787.42 L419.02 787.12 L419.98 786.81 L420.94 786.49 L421.90 786.17 L421.92 786.17 M430.10 783.14 L430.23 783.08 L431.17 782.69 L432.10 782.29 L433.03 781.88 L433.96 781.46 L434.17 781.37 M442.34 777.06 L442.45 777.00 L443.30 776.47 L444.15 775.93 L444.99 775.38 L445.82 774.81 L446.41 774.40 M454.56 767.39 L454.72 767.21 L455.40 766.48 L456.06 765.73 L456.71 764.98 L457.35 764.21 L457.97 763.43 L458.06 763.32 M463.20 755.15 L463.25 755.05 L463.68 754.16 L464.09 753.26 L464.48 752.35 L464.86 751.44 L465.00 751.07 M467.65 742.90 L467.71 742.68 L467.97 741.71 L468.23 740.74 L468.49 739.76 L468.73 738.83 M470.93 730.66 L470.99 730.45 L471.29 729.47 L471.59 728.50 L471.91 727.53 L471.99 727.29" stroke="#ff0000" stroke-width="3.3" stroke-linecap="round"/>
<path class="cv" d="M136.33 866.26 L137.79 866.12 L139.25 865.97 L140.71 865.80 L142.17 865.63 L143.63 865.46 L145.10 865.27 L146.56 865.08 L148.02 864.88 L149.48 864.67 L150.94 864.45 L152.40 864.23 L153.86 864.00 L155.32 863.77 L156.78 863.52 L158.24 863.27 L159.70 863.02 L161.16 862.76 L162.62 862.49 L164.08 862.21 L165.54 861.93 L167.00 861.65 L168.46 861.36 L169.92 861.06 L171.38 860.76 L172.84 860.45 L174.30 860.14 L175.76 859.82 L177.22 859.50 L178.68 859.17 L180.14 858.84 L181.60 858.50 L183.06 858.16 L184.52 857.82 L185.98 857.47 L187.44 857.12 L188.90 856.77 L190.36 856.41 L191.82 856.05 L193.27 855.68 L194.73 855.31 L196.19 854.94 L197.65 854.57 L199.11 854.19 L200.57 853.81 L202.03 853.43 L203.49 853.05 L204.95 852.66 L206.41 852.27 L207.87 851.88 L209.33 851.49 L210.79 851.10 L212.25 850.71 L213.71 850.31 L215.17 849.91 L216.63 849.51 L218.09 849.11 L219.54 848.71 L221.00 848.31 L222.46 847.91 L223.92 847.51 L225.38 847.10 L226.84 846.70 L228.30 846.29 L229.76 845.88 L231.22 845.48 L232.68 845.07 L234.15 844.66 L235.61 844.26 L237.07 843.85 L238.53 843.44 L239.99 843.04 L241.45 842.63 L242.91 842.22 L244.37 841.82 L245.83 841.41 L247.29 841.01 L248.75 840.60 L250.21 840.20 L251.68 839.79 L253.14 839.39 L254.60 838.99 L256.06 838.59 L257.52 838.19 L258.99 837.79 L260.45 837.40 L261.91 837.00 L263.37 836.61 L264.84 836.22 L266.30 835.83 L267.76 835.44 L269.22 835.05 L270.69 834.67 L272.15 834.28 L273.61 833.90 L275.08 833.53 L276.54 833.15 L278.01 832.78 L279.47 832.40 L280.94 832.04 L282.40 831.67 L283.86 831.31 L285.33 830.94 L286.80 830.59 L288.26 830.23 L289.73 829.88 L291.19 829.53 L292.66 829.19 L294.12 828.84 L295.59 828.51 L297.06 828.17 L298.52 827.84 L299.99 827.51 L301.46 827.19 L302.93 826.87 L304.39 826.55 L305.86 826.24 L307.33 825.93 L308.80 825.62 L310.27 825.32 L311.74 825.03 L313.20 824.74 L314.67 824.45 L316.14 824.17 L317.61 823.89 L319.08 823.62 L320.55 823.35 L322.03 823.09 L323.50 822.83 L324.97 822.58 L326.44 822.33 L327.91 822.09 L329.38 821.85 L330.86 821.62 L332.33 821.40 L333.80 821.18 L335.27 820.96 L336.75 820.75 L338.22 820.55 L339.70 820.35 L341.17 820.16 L342.64 819.98 L344.12 819.80 L345.59 819.62 L347.07 819.46 L348.55 819.29 L350.02 819.14 L351.50 818.98 L352.98 818.84 L354.45 818.70 L355.93 818.56 L357.41 818.43 L358.89 818.31 L360.37 818.19 L361.84 818.07 L363.32 817.97 L364.80 817.86 L366.28 817.76 L367.76 817.67 L369.24 817.58 L370.73 817.50 L372.21 817.42 L373.69 817.35 L375.17 817.28 L376.65 817.22 L378.14 817.16 L379.62 817.11 L381.10 817.06 L382.59 817.02 L384.07 816.98 L385.56 816.95 L387.04 816.92 L388.53 816.90 L390.01 816.88 L391.50 816.87 L392.99 816.86 L394.47 816.85 L395.96 816.85 L397.45 816.86 L398.94 816.87 L400.42 816.88 L401.91 816.90 L403.40 816.92 L404.89 816.95 L406.38 816.98 L407.87 817.02 L409.37 817.06 L410.86 817.10 L412.35 817.15 L413.84 817.20 L415.33 817.26 L416.83 817.32 L418.32 817.39 L419.82 817.46 L421.31 817.53 L422.80 817.61 L424.30 817.69 L425.80 817.77 L427.29 817.86 L428.79 817.96 L430.29 818.06 L431.78 818.16 L433.28 818.26 L434.78 818.37 L436.28 818.48 L437.78 818.60 L439.28 818.72 L440.78 818.84 L442.28 818.97 L443.78 819.10 L445.28 819.23 L446.79 819.37 L448.29 819.51 L449.79 819.65 L451.30 819.80 L452.80 819.94 L454.31 820.10 L455.81 820.25 L457.32 820.41 L458.82 820.57 L460.33 820.73 L461.84 820.90 L463.35 821.07 L464.86 821.24 L466.36 821.41 L467.87 821.59 L469.38 821.77 L470.89 821.95 L472.41 822.13 L473.92 822.32 L474.42 822.38" stroke="#000000" stroke-width="4.0" stroke-linecap="round"/>
<path class="cv" d="M130.8 323.0 L184.6 323.0" stroke="#ff0000" stroke-width="3.3" stroke-dasharray="4.4 7.92" stroke-linecap="round"/>
<path class="cv" d="M130.95 352.2 L144.65 352.2 M153.8 352.2 L155.6 352.2 M164.85 352.2 L178.55 352.2" stroke="#0000ff" stroke-width="3.7" stroke-linecap="round"/>
<path class="cv" d="M131.1 381.3 L184.8 381.3" stroke="#000" stroke-width="4.0" stroke-linecap="round"/>
<text class="ser" x="191.32" y="330.50" font-size="23.50" letter-spacing="0.345">pole</text>
<text class="ser" x="190.80" y="359.30" font-size="23.50">cut</text>
<text class="ser" x="191.32" y="389.00" font-size="23.50" letter-spacing="0.228">pole+cut</text>
<text class="ser" x="127.78" y="151.85" font-size="23.50">T=1</text>
<text class="ser" x="173.62" y="151.85" font-size="23.50" letter-spacing="0.784">MeV;</text>
<text class="ser" transform="translate(242.26 151.85) scale(1.0799 1)" font-size="23.50">ρ</text>
<text class="ser" x="259.83" y="151.85" font-size="23.50" letter-spacing="0.320">=0.3</text>
<text class="ser" transform="translate(303.27 151.85) scale(1.1447 1)" font-size="23.50">ρ</text>
<text class="ser" transform="translate(316.03 160.45) scale(1.0618 1)" font-size="14.00" style="stroke:none">0</text>
<text class="ser" x="133.60" y="188.30" font-size="23.50" letter-spacing="0.184">I=0.0;</text>
<text class="ser" x="197.97" y="188.30" font-size="23.50" letter-spacing="0.014">t=40</text>
<text class="ser" x="246.98" y="188.30" font-size="23.50" letter-spacing="0.361">fm/c</text>
<text class="ser" x="131.68" y="444.95" font-size="23.50">T=1</text>
<text class="ser" x="177.52" y="444.95" font-size="23.50" letter-spacing="0.784">MeV;</text>
<text class="ser" transform="translate(246.16 444.95) scale(1.0799 1)" font-size="23.50">ρ</text>
<text class="ser" x="263.73" y="444.95" font-size="23.50" letter-spacing="0.320">=0.3</text>
<text class="ser" transform="translate(307.17 444.95) scale(1.1447 1)" font-size="23.50">ρ</text>
<text class="ser" transform="translate(319.93 453.55) scale(1.0618 1)" font-size="14.00" style="stroke:none">0</text>
<text class="ser" x="137.50" y="481.40" font-size="23.50" letter-spacing="0.184">I=0.4;</text>
<text class="ser" x="201.87" y="481.40" font-size="23.50" letter-spacing="0.014">t=40</text>
<text class="ser" x="250.88" y="481.40" font-size="23.50" letter-spacing="0.361">fm/c</text>
<text class="ser" x="129.88" y="729.65" font-size="23.50">T=1</text>
<text class="ser" x="175.72" y="729.65" font-size="23.50" letter-spacing="0.784">MeV;</text>
<text class="ser" transform="translate(244.36 729.65) scale(1.0799 1)" font-size="23.50">ρ</text>
<text class="ser" x="261.93" y="729.65" font-size="23.50" letter-spacing="0.320">=0.3</text>
<text class="ser" transform="translate(305.37 729.65) scale(1.1447 1)" font-size="23.50">ρ</text>
<text class="ser" transform="translate(318.13 738.25) scale(1.0618 1)" font-size="14.00" style="stroke:none">0</text>
<text class="ser" x="135.70" y="766.10" font-size="23.50" letter-spacing="0.184">I=0.8;</text>
<text class="ser" x="200.07" y="766.10" font-size="23.50" letter-spacing="0.014">t=40</text>
<text class="ser" x="249.08" y="766.10" font-size="23.50" letter-spacing="0.361">fm/c</text>
<text class="san" x="481.10" y="375.90" font-size="22.50" letter-spacing="0.046">(a)</text>
<text class="san" x="482.10" y="663.50" font-size="22.50" letter-spacing="-0.004">(b)</text>
<text class="san" x="479.20" y="949.60" font-size="22.50" letter-spacing="0.328">(c)</text>
<text class="ser" x="282.82" y="1041.60" font-size="25.00">k</text>
<text class="ser" x="302.60" y="1041.60" font-size="25.00" letter-spacing="0.497">(fm</text>
<text class="ser" x="339.78" y="1027.50" font-size="14.00" letter-spacing="-0.202" style="stroke:none">-1</text>
<text class="ser" transform="translate(351.95 1041.60) scale(1.0590 1)" font-size="25.00">)</text>
<g transform="translate(30.95 327.10) rotate(-90)" class="yt">
<text class="ser" transform="translate(-1.05 0.00) scale(1.0065 1)" font-size="27.30">σ</text>
<text class="ser" x="13.10" y="0.00" font-size="25.00" letter-spacing="0.188">(k,t)</text>
<text class="ser" x="63.80" y="0.00" font-size="25.00" letter-spacing="0.647">(fm</text>
<text class="ser" transform="translate(101.03 -13.80) scale(0.9426 1)" font-size="16.40">-3</text>
<text class="ser" transform="translate(114.56 0.00) scale(1.0435 1)" font-size="25.00">)</text>
</g>
<g transform="translate(28.65 613.90) rotate(-90)" class="yt">
<text class="ser" transform="translate(-1.05 0.00) scale(1.0065 1)" font-size="27.30">σ</text>
<text class="ser" x="13.10" y="0.00" font-size="25.00" letter-spacing="0.188">(k,t)</text>
<text class="ser" x="63.80" y="0.00" font-size="25.00" letter-spacing="0.647">(fm</text>
<text class="ser" transform="translate(101.03 -13.80) scale(0.9426 1)" font-size="16.40">-3</text>
<text class="ser" transform="translate(114.56 0.00) scale(1.0435 1)" font-size="25.00">)</text>
</g>
<g transform="translate(27.85 887.00) rotate(-90)" class="yt">
<text class="ser" transform="translate(-1.05 0.00) scale(1.0065 1)" font-size="27.30">σ</text>
<text class="ser" x="13.10" y="0.00" font-size="25.00" letter-spacing="0.188">(k,t)</text>
<text class="ser" x="63.80" y="0.00" font-size="25.00" letter-spacing="0.647">(fm</text>
<text class="ser" transform="translate(101.03 -13.80) scale(0.9426 1)" font-size="16.40">-3</text>
<text class="ser" transform="translate(114.56 0.00) scale(1.0435 1)" font-size="25.00">)</text>
</g>
</svg></body></html>
